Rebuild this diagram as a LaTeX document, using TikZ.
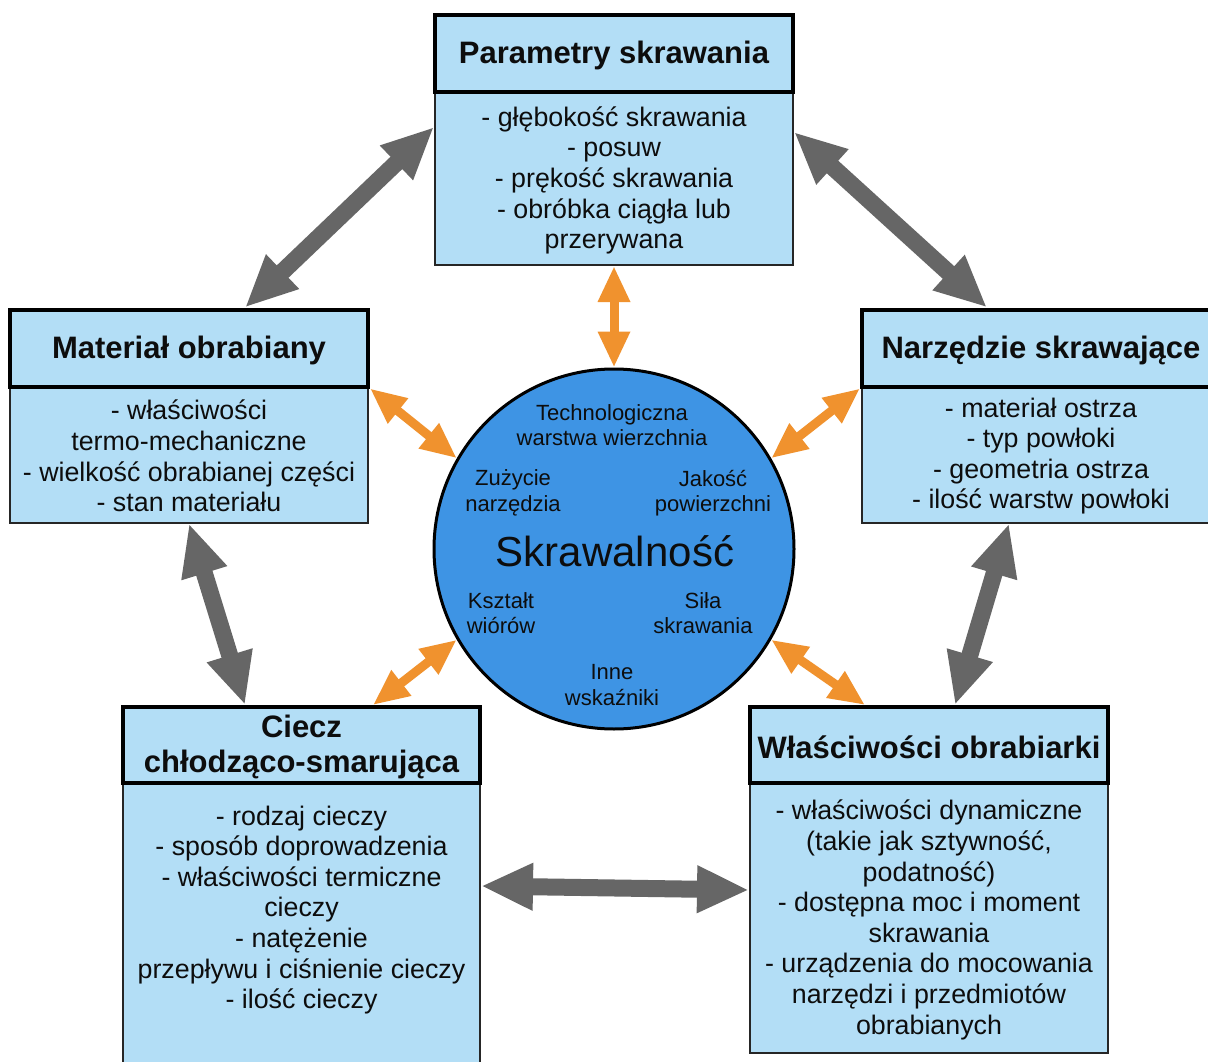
\documentclass[tikz,border=0pt]{standalone}
\usepackage{fontspec}
\setmainfont{Liberation Sans}
\usetikzlibrary{arrows.meta}
\definecolor{boxblue}{RGB}{179,222,246}
\definecolor{circblue}{RGB}{62,148,228}
\definecolor{arrgray}{RGB}{102,102,102}
\definecolor{arrorange}{RGB}{240,146,46}
\newcommand\hdfont{\fontsize{31}{35}\selectfont\bfseries}
\newcommand\bdfont{\fontsize{26.8}{30.6}\selectfont}
\newcommand\cfont{\fontsize{22}{25.5}\selectfont}
\tikzset{
  headbox/.style={draw=black, line width=4pt, fill=boxblue, inner sep=0pt,
    align=center, font=\hdfont, text=black!95, minimum height=77pt},
  bodybox/.style={draw=black!85, line width=2pt, fill=boxblue, inner sep=0pt,
    align=center, font=\bdfont, text=black!95},
  ctext/.style={align=center, font=\cfont, text=black!95, inner sep=0pt},
  garrow/.style={draw=arrgray, line width=17pt,
    {Triangle[width=44pt,length=52pt]}-{Triangle[width=44pt,length=52pt]}},
  oarrow/.style={draw=arrorange, line width=9pt,
    {Triangle[width=30pt,length=36pt]}-{Triangle[width=30pt,length=36pt]}}
}
\begin{document}
\begin{tikzpicture}[x=1pt,y=-1pt]
\useasboundingbox (0,0) rectangle (1208,1062);
\clip (0,0) rectangle (1208,1062);
\fill[white] (0,0) rectangle (1208,1062);

% top box
\node[bodybox, minimum width=358pt, minimum height=173pt] (pb) at (614,178.5) {};
\node[ctext, font=\bdfont] (pbt) at (614,180.5)
  {- głębokość skrawania\\- posuw\\- prękość skrawania\\- obróbka ciągła lub\\przerywana};
\node[headbox, minimum width=358pt] (ph) at (614,53.5) {};
\node[ctext, font=\hdfont] (pht) at (614,55.5) {Parametry skrawania};

% left box
\node[bodybox, minimum width=358pt, minimum height=136pt] (mb) at (189,454.5) {};
\node[ctext, font=\bdfont] (mbt) at (189,456)
  {- właściwości\\termo-mechaniczne\\- wielkość obrabianej części\\- stan materiału};
\node[headbox, minimum width=358pt] (mh) at (189,348) {};
\node[ctext, font=\hdfont] (mht) at (189,350) {Materiał obrabiany};

% right box
\node[bodybox, minimum width=358pt, minimum height=136pt] (nb) at (1041,454.5) {};
\node[ctext, font=\bdfont] (nbt) at (1041,456)
  {- materiał ostrza\\- typ powłoki\\- geometria ostrza\\- ilość warstw powłoki};
\node[headbox, minimum width=358pt] (nh) at (1041,348) {};
\node[ctext, font=\hdfont] (nht) at (1041,350) {Narzędzie skrawające};

% bottom left box
\node[bodybox, minimum width=357pt, minimum height=307pt] (cb) at (301.5,936.5) {};
\node[ctext, font=\bdfont] (cbt) at (301.5,910)
  {- rodzaj cieczy\\- sposób doprowadzenia\\- właściwości termiczne\\cieczy\\- natężenie\\przepływu i ciśnienie cieczy\\- ilość cieczy};
\node[headbox, minimum width=357pt, minimum height=76pt] (ch) at (301.5,745) {};
\node[ctext, font=\hdfont] (cht) at (301.5,747) {Ciecz\\chłodząco-smarująca};

% bottom right box
\node[bodybox, minimum width=358pt, minimum height=270pt] (wb) at (929,918) {};
\node[ctext, font=\bdfont] (wbt) at (929,920)
  {- właściwości dynamiczne\\(takie jak sztywność,\\podatność)\\- dostępna moc i moment\\skrawania\\- urządzenia do mocowania\\narzędzi i przedmiotów\\obrabianych};
\node[headbox, minimum width=358pt, minimum height=76pt] (wh) at (929,745) {};
\node[ctext, font=\hdfont] (wht) at (929,747) {Właściwości obrabiarki};

% circle
\node[circle, draw=black, line width=3pt, fill=circblue, minimum size=360pt, inner sep=0pt] (circ) at (614,549) {};
\node[ctext] (t1) at (612,425) {Technologiczna\\warstwa wierzchnia};
\node[ctext] (t2) at (513,493) {Zużycie\\narzędzia};
\node[ctext] (t3) at (713,493) {Jakość\\powierzchni};
\node[ctext, font=\fontsize{42}{46}\selectfont] (t4) at (615,551) {Skrawalność};
\node[ctext] (t5) at (501,613) {Kształt\\wiórów};
\node[ctext] (t6) at (703,613) {Siła\\skrawania};
\node[ctext] (t7) at (612,685) {Inne\\wskaźniki};

% gray arrows
\draw[garrow] ([yshift=51.5pt]pb.west) -- ([xshift=56pt]mh.north);
\draw[garrow] ([yshift=46.5pt]pb.east) -- ([xshift=-54pt]nh.north);
\draw[garrow] (mb.south) -- ([xshift=-56.5pt]ch.north);
\draw[garrow] ([xshift=-32pt]nb.south) -- ([xshift=26pt]wh.north);
\draw[garrow] ([yshift=50.5pt]cb.east) -- ([yshift=28pt]wb.west);

% orange arrows
\draw[oarrow] (pb.south) -- (circ.north);
\draw[oarrow] (mh.south east) -- (circ.150);
\draw[oarrow] (nh.south west) -- (circ.30);
\draw[oarrow] ([xshift=71.5pt]ch.north) -- (circ.210);
\draw[oarrow] ([xshift=-64pt]wh.north) -- (circ.330);
\end{tikzpicture}
\end{document}
